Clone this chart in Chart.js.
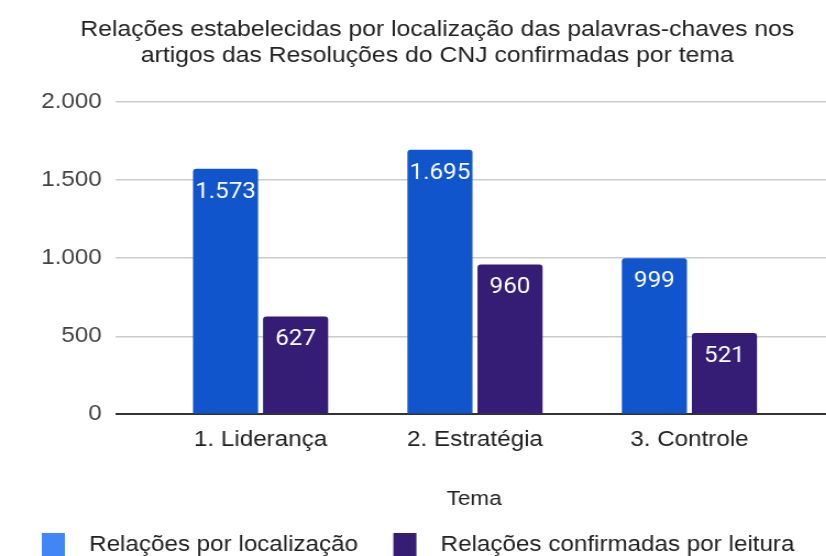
<!DOCTYPE html>
<html lang="pt-BR">
<head>
<meta charset="utf-8">
<title>Relações por tema</title>
<script src="https://cdn.jsdelivr.net/npm/chart.js@4.4.1/dist/chart.umd.min.js"></script>
<style>
  html, body { margin: 0; padding: 0; background: #fff; overflow: hidden; }
  /* the reference is slightly stretched sideways, so the canvas is too */
  #chart { display: block; transform: scaleX(1.1); transform-origin: 0 0; }
</style>
</head>
<body>
<canvas id="chart" width="778" height="567"></canvas>
<script>
// Data
const temas = ["1. Liderança", "2. Estratégia", "3. Controle"];
const porLocalizacao = [1573, 1695, 999];
const confirmadasLeitura = [627, 960, 521];
const yTicks = [0, 500, 1000, 1500, 2000];

const FONT = "'Liberation Sans', Arial, sans-serif";

// 1573 -> "1.573"
function fmt(v) {
  return String(v).replace(/\B(?=(\d{3})+(?!\d))/g, ".");
}

// white value labels inside the top of each bar
const barLabels = {
  id: "barLabels",
  afterDatasetsDraw(chart) {
    const ctx = chart.ctx;
    ctx.save();
    ctx.font = "22px Roboto";
    ctx.fillStyle = "#ffffff";
    ctx.textAlign = "center";
    ctx.textBaseline = "alphabetic";
    chart.data.datasets.forEach((ds, i) => {
      chart.getDatasetMeta(i).data.forEach((bar, j) => {
        ctx.fillText(fmt(ds.data[j].y), bar.x, bar.y + 29);
      });
    });
    ctx.restore();
  },
};

const legendColors = ["#4285f4", "#351c75"];

new Chart(document.getElementById("chart"), {
  type: "bar",
  data: {
    datasets: [
      {
        label: "Relações por localização",
        data: temas.map((t, i) => ({ x: i, y: porLocalizacao[i] })),
        backgroundColor: "#1155cc",
        borderRadius: 3,
        categoryPercentage: 0.6535,
        barPercentage: 0.929,
      },
      {
        label: "Relações confirmadas por leitura",
        data: temas.map((t, i) => ({ x: i, y: confirmadasLeitura[i] })),
        backgroundColor: "#351c75",
        borderRadius: 3,
        categoryPercentage: 0.6535,
        barPercentage: 0.929,
      },
    ],
  },
  options: {
    responsive: false,
    animation: false,
    layout: { padding: { left: 17, right: 0, top: 0, bottom: 0 } },
    plugins: {
      title: {
        display: true,
        text: [
          "Relações estabelecidas por localização das palavras-chaves nos",
          "artigos das Resoluções do CNJ confirmadas por tema",
        ],
        color: "#222",
        font: { family: FONT, size: 22.5, weight: "normal", lineHeight: 26 / 22.5 },
        padding: { top: 17.2, bottom: 32.8 },
      },
      legend: {
        position: "bottom",
        align: "start",
        labels: {
          boxWidth: 21,
          boxHeight: 24,
          padding: 21,
          color: "#222",
          font: { family: FONT, size: 22 },
          generateLabels(chart) {
            return Chart.defaults.plugins.legend.labels
              .generateLabels(chart)
              .map((item, i) => ({
                ...item,
                // en spaces: gap after the swatch, and between the two entries
                text: "\u2002" + item.text + (i === 0 ? "\u2002" : ""),
                fillStyle: legendColors[i],
                strokeStyle: legendColors[i],
                lineWidth: 0,
              }));
          },
        },
      },
      tooltip: { enabled: false },
    },
    scales: {
      x: {
        type: "linear",
        min: -0.679,
        max: 2.776,
        offset: false,
        grid: { display: false, drawTicks: false },
        border: { display: false },
        ticks: {
          stepSize: 1,
          includeBounds: false,
          autoSkip: false,
          maxRotation: 0,
          minRotation: 0,
          padding: 12,
          color: "#222",
          font: { family: FONT, size: 22 },
          callback: (v) => (Number.isInteger(v) && temas[v]) || "",
        },
        title: {
          display: true,
          // trailing en spaces nudge the centred word a little to the left
          text: "Tema\u2002\u2002",
          color: "#222",
          font: { family: FONT, size: 20.5, lineHeight: 1.2 },
          padding: { top: 22.6, bottom: 0 },
        },
      },
      y: {
        min: yTicks[0],
        max: yTicks[yTicks.length - 1],
        border: { display: false },
        grid: {
          drawTicks: false,
          color: (c) => (c.tick && c.tick.value === 0 ? "#333" : "#cccccc"),
          lineWidth: (c) => (c.tick && c.tick.value === 0 ? 2 : 1.5),
        },
        ticks: {
          stepSize: yTicks[1] - yTicks[0],
          padding: 12,
          color: "#444",
          font: { family: FONT, size: 22 },
          callback: (v) => fmt(v),
        },
        afterFit(scale) {
          scale.width = 87.5;
        },
      },
    },
  },
  plugins: [barLabels],
});
</script>
</body>
</html>
